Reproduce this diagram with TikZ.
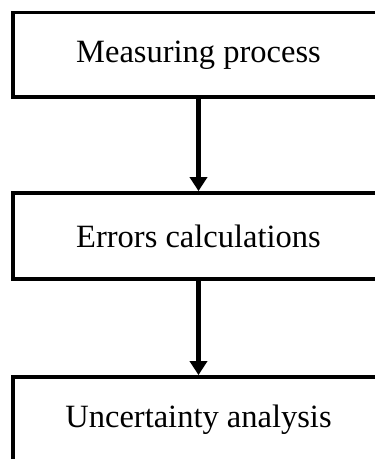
\documentclass[tikz,border=0pt]{standalone}
\usepackage{fontspec}
\setmainfont{Liberation Serif}
\usetikzlibrary{arrows.meta}
\begin{document}
\begin{tikzpicture}[x=1pt,y=-1pt,
  stagebox/.style={draw=black, line width=3.8pt, rectangle, minimum width=371pt, inner sep=0pt,
    font=\fontsize{32.5}{38}\selectfont, text=black},
  flowarrow/.style={draw=black, line width=5.5pt, -{Triangle[width=17pt,length=14pt]}}]
\useasboundingbox (0,0) rectangle (375,459);
\fill[white] (0,0) rectangle (375,459);
\clip (0,0) rectangle (375,459);
\node[stagebox, minimum height=84.5pt] (b1) at (198.5,54.75) {Measuring process};
\node[stagebox, minimum height=86pt] (b2) at (198.5,236) {Errors calculations};
\node[stagebox, minimum height=86pt] (b3) at (198.5,420) {Uncertainty analysis};
\draw[flowarrow] (b1.south) -- (b2.north);
\draw[flowarrow] (b2.south) -- (b3.north);
\end{tikzpicture}
\end{document}
